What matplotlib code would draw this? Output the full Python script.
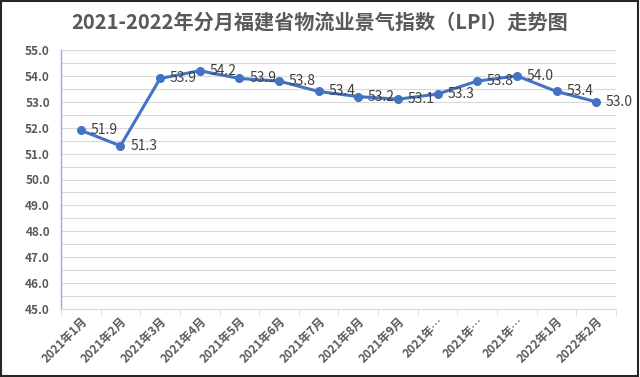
import matplotlib
matplotlib.use("Agg")
import matplotlib.pyplot as plt
from matplotlib.ticker import MultipleLocator, FixedLocator
from matplotlib.patches import Rectangle

plt.rcParams['font.family'] = ['Noto Sans CJK SC', 'DejaVu Sans']

categories = ["2021年1月", "2021年2月", "2021年3月", "2021年4月", "2021年5月", "2021年6月",
              "2021年7月", "2021年8月", "2021年9月", "2021年…", "2021年…", "2021年…",
              "2022年1月", "2022年2月"]
values = [51.9, 51.3, 53.9, 54.2, 53.9, 53.8, 53.4, 53.2, 53.1, 53.3, 53.8, 54.0, 53.4, 53.0]
title = "2021-2022年分月福建省物流业景气指数（LPI）走势图"

W, H = 640, 377
fig = plt.figure(figsize=(W / 100, H / 100), dpi=100)
left, right, top, bottom = 61, 616, 50, 309
ax = fig.add_axes([left / W, 1 - bottom / H, (right - left) / W, (bottom - top) / H])

x = list(range(len(values)))
ax.plot(x, values, color='#4472C4', lw=2.2, marker='o', ms=5.5, zorder=3, clip_on=False)
for xi, v in zip(x, values):
    ax.annotate(f"{v:.1f}", (xi, v), xytext=(7, 0), textcoords='offset points',
                ha='left', va='center', fontsize=10, color='#404040')

ax.set_xlim(-0.5, len(values) - 0.5)
ax.set_ylim(45, 55)
ax.yaxis.set_major_locator(MultipleLocator(1))
ax.yaxis.set_minor_locator(MultipleLocator(0.5))
ax.set_yticklabels([f"{t:.1f}" for t in ax.get_yticks()])
ax.grid(True, which='both', axis='y', color='#D9D9D9', lw=0.8)
ax.set_axisbelow(True)

ax.set_xticks(x)
ax.set_xticklabels(categories, rotation=45, ha='right', rotation_mode='anchor',
                   fontsize=8.5, color='#595959', fontweight='bold')
ax.xaxis.set_minor_locator(FixedLocator([i - 0.5 for i in range(len(values) + 1)]))
ax.tick_params(axis='x', which='major', length=0, pad=4)
ax.tick_params(axis='x', which='minor', length=4, color='#D9D9D9')
ax.tick_params(axis='y', which='both', length=0, labelsize=8.5, labelcolor='#595959', pad=8)
for lab in ax.get_yticklabels():
    lab.set_fontweight('bold')

for s in ['top', 'right']:
    ax.spines[s].set_visible(False)
ax.spines['left'].set_color('#8FAADC')
ax.spines['left'].set_linewidth(1.0)
ax.spines['bottom'].set_color('#D9D9D9')

fig.text(0.5, 1 - 22 / H, title, ha='center', va='center', fontsize=14.5,
         fontweight='bold', color='#595959')

fig.patches.append(Rectangle((0.002, 0.003), 0.995, 0.994, transform=fig.transFigure,
                             fill=False, edgecolor='#262626', lw=1.5))

fig.savefig("out.png", dpi=100)
